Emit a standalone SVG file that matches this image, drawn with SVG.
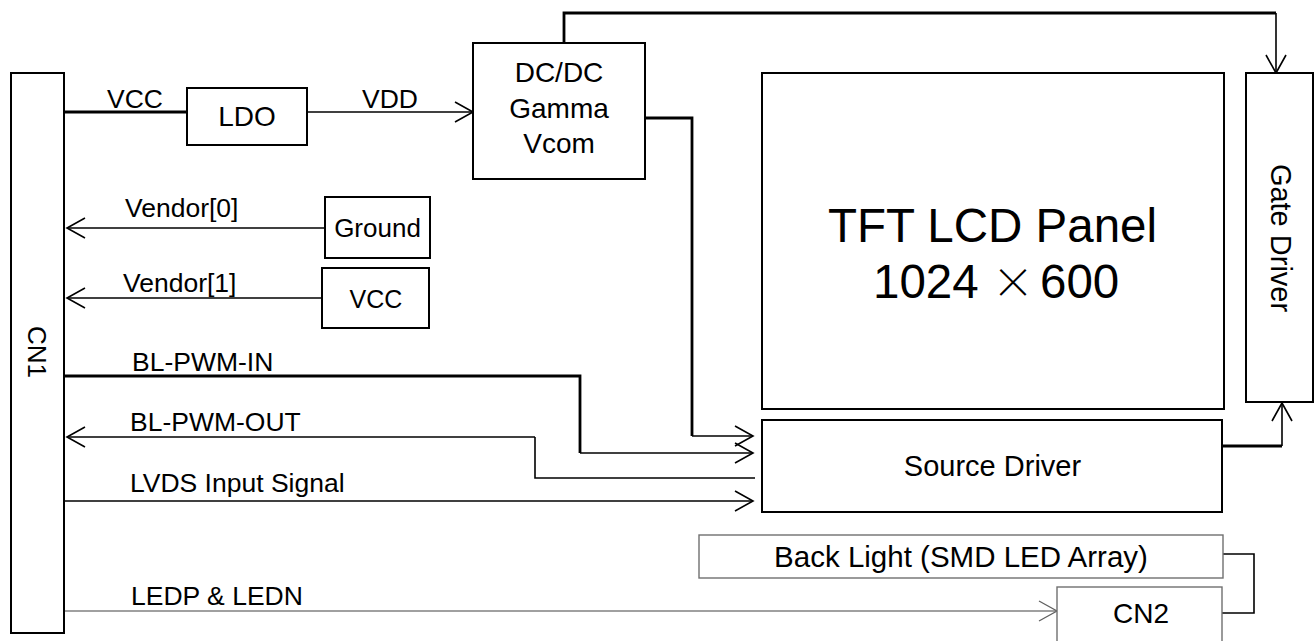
<svg xmlns="http://www.w3.org/2000/svg" width="1316" height="641" viewBox="0 0 1316 641">
<style>
.box{fill:#fff;stroke:#000;stroke-width:2}
.gbox{fill:#fff;stroke:#707070;stroke-width:1.4}
.t{font-family:"Liberation Sans",Arial,sans-serif;fill:#000}
.lbl{font-size:26.5px}
.thick{fill:none;stroke:#000;stroke-width:2.8}
.thin{fill:none;stroke:#000;stroke-width:1.6}
.gray{fill:none;stroke:#808080;stroke-width:1.6}
.arr{marker-end:url(#a)}
.garr{marker-end:url(#ga)}
</style>
<defs>
<marker id="a" markerUnits="userSpaceOnUse" markerWidth="22" markerHeight="24" refX="18" refY="10" orient="auto" overflow="visible">
<path d="M0,0 L18,10 L0,20" fill="none" stroke="#000" stroke-width="1.6"/>
</marker>
<marker id="ga" markerUnits="userSpaceOnUse" markerWidth="22" markerHeight="24" refX="18" refY="10" orient="auto" overflow="visible">
<path d="M0,0 L18,10 L0,20" fill="none" stroke="#606060" stroke-width="1.3"/>
</marker>
</defs>
<rect width="1316" height="641" fill="#fff"/>

<g id="connectors">
<path class="thick" d="M64,112 H187"/>
<path class="thin arr" d="M307,112 H473"/>
<path class="thick" d="M564,43 V13 H1276"/>
<path class="thin arr" d="M1276,13 V73"/>
<path class="thick" d="M645,118 H692 V436"/>
<path class="thin arr" d="M692,436 H753"/>
<path class="thin arr" d="M325,228 H67"/>
<path class="thin arr" d="M322,298 H67"/>
<path class="thick" d="M64,376 H580 V453"/>
<path class="thin arr" d="M580,453 H753"/>
<path class="thin" d="M755,478 H535 V437"/>
<path class="thin arr" d="M535,437 H67"/>
<path class="thin arr" d="M64,501 H753"/>
<path class="thick" d="M1222,446 H1282"/>
<path class="thin arr" d="M1282,446 V403"/>
<path class="gray garr" d="M64,611 H1057"/>
<path class="thin" d="M1223,554 H1254 V613 H1222" stroke-width="2"/>
</g>

<g id="cn1">
<rect class="box" x="11" y="73" width="53" height="560"/>
<text class="t" font-size="26" text-anchor="middle" transform="translate(28,352) rotate(90)">CN1</text>
</g>
<g id="ldo">
<rect class="box" x="187" y="88" width="120" height="57"/>
<text class="t" font-size="28" x="247" y="126" text-anchor="middle">LDO</text>
</g>
<g id="vcc-label"><text class="t lbl" x="107" y="108">VCC</text></g>
<g id="vdd-label"><text class="t lbl" x="362" y="108">VDD</text></g>
<g id="dcdc">
<rect class="box" x="473" y="43" width="172" height="136"/>
<text class="t" font-size="28" text-anchor="middle"><tspan x="559" y="82">DC/DC</tspan><tspan x="559" y="118">Gamma</tspan><tspan x="559" y="153">Vcom</tspan></text>
</g>
<g id="ground">
<rect class="box" x="325" y="197" width="105" height="61"/>
<text class="t" font-size="26" x="377.5" y="237" text-anchor="middle">Ground</text>
</g>
<g id="vcc">
<rect class="box" x="322" y="268" width="107" height="60"/>
<text class="t" font-size="25" x="376" y="308" text-anchor="middle">VCC</text>
</g>
<g id="labels">
<text class="t lbl" x="125" y="217">Vendor[0]</text>
<text class="t lbl" x="123" y="292">Vendor[1]</text>
<text class="t lbl" x="132" y="371">BL-PWM-IN</text>
<text class="t lbl" x="130" y="431">BL-PWM-OUT</text>
<text class="t lbl" x="130" y="492">LVDS Input Signal</text>
<text class="t lbl" x="131" y="605">LEDP &amp; LEDN</text>
</g>
<g id="panel">
<rect class="box" x="762" y="73" width="462" height="336"/>
<text class="t" font-size="47.5" x="992.5" y="242" text-anchor="middle">TFT LCD Panel</text>
<text class="t" font-size="47.5" y="298"><tspan x="873">1024</tspan><tspan x="992" font-size="42" font-family="'Noto Sans CJK JP',sans-serif" font-weight="300">×</tspan><tspan x="1040">600</tspan></text>
</g>
<g id="gate-driver">
<rect class="box" x="1246" y="73" width="67" height="329"/>
<text class="t" font-size="29" text-anchor="middle" transform="translate(1271,238) rotate(90)">Gate Driver</text>
</g>
<g id="source-driver">
<rect class="box" x="762" y="420" width="460" height="92"/>
<text class="t" font-size="29" x="992.5" y="476" text-anchor="middle">Source Driver</text>
</g>
<g id="backlight">
<rect class="gbox" x="699" y="535" width="524" height="43"/>
<text class="t" font-size="29.5" x="961" y="567" text-anchor="middle">Back Light (SMD LED Array)</text>
</g>
<g id="cn2">
<rect class="gbox" x="1057" y="587" width="165" height="60"/>
<text class="t" font-size="28" x="1141" y="623" text-anchor="middle">CN2</text>
</g>
</svg>
